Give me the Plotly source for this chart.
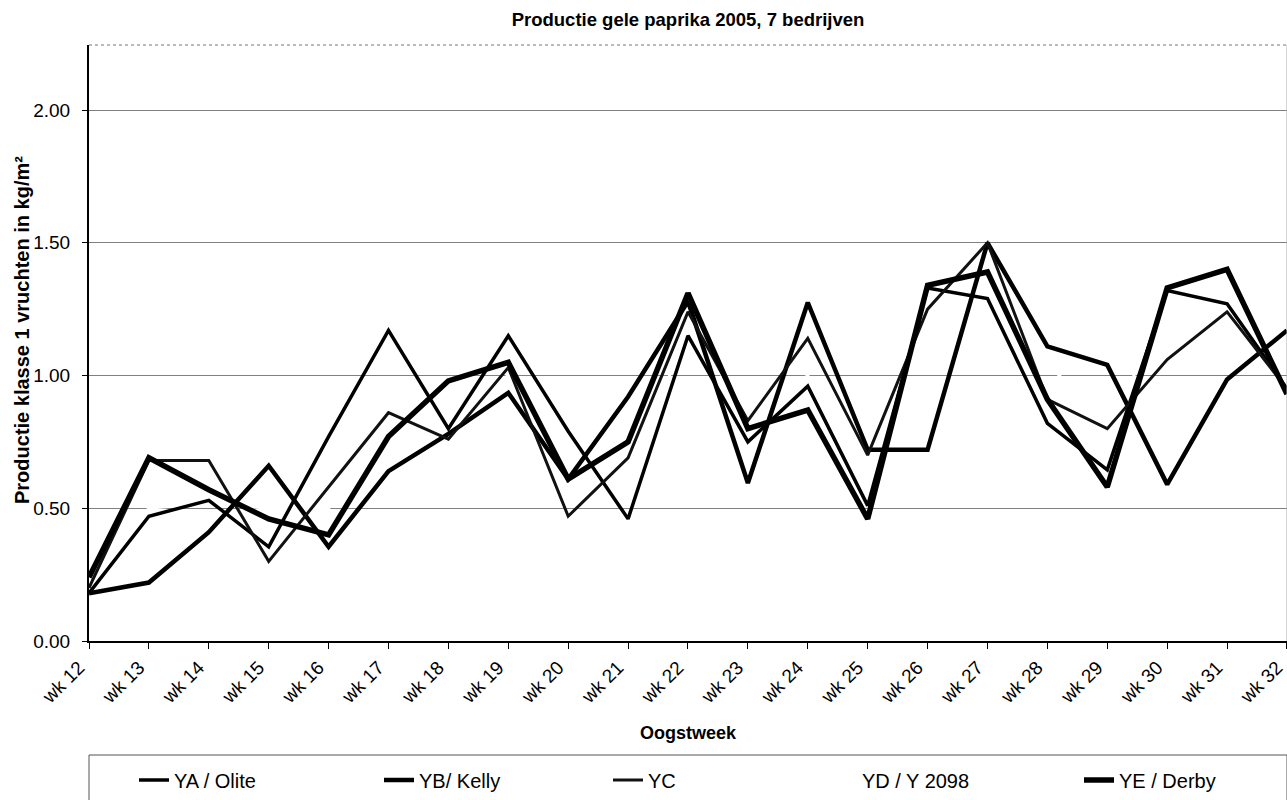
import plotly.graph_objects as go

weeks = [f"wk {w}" for w in range(12, 33)]
ya_olite = [0.18, 0.47, 0.53, 0.355, 0.77, 1.17, 0.80, 1.15, 0.79, 0.46, 1.15,
            0.75, 0.96, 0.51, 1.33, 1.29, 0.82, 0.645, 1.32, 1.27, 0.95]
yb_kelly = [0.18, 0.22, 0.41, 0.66, 0.355, 0.64, 0.78, 0.935, 0.61, 0.92, 1.28,
            0.595, 1.275, 0.72, 0.72, 1.50, 1.11, 1.04, 0.59, 0.985, 1.17]
yc = [0.20, 0.68, 0.68, 0.30, 0.58, 0.86, 0.76, 1.03, 0.47, 0.69, 1.24,
      0.83, 1.14, 0.70, 1.25, 1.50, 0.91, 0.80, 1.06, 1.24, 0.95]
yd_y2098 = [0.22, 0.50, 0.52, 0.50, 0.50, 0.75, 0.85, 1.00, 0.70, 0.55, 1.20,
            0.85, 1.00, 0.60, 1.30, 1.45, 1.05, 0.80, 1.25, 1.10, 1.10]
ye_derby = [0.24, 0.69, 0.57, 0.46, 0.40, 0.77, 0.98, 1.05, 0.61, 0.75, 1.31,
            0.80, 0.87, 0.46, 1.34, 1.39, 0.91, 0.58, 1.33, 1.40, 0.93]
y_ticks = [0.0, 0.5, 1.0, 1.5, 2.0]

xi = list(range(len(weeks)))
FONT = "Liberation Sans, Arial, sans-serif"

plot_left, plot_right, plot_top, plot_bottom = 89, 1287, 45, 641
W, H = 1287, 800
PW = plot_right - plot_left
PH = plot_bottom - plot_top


def px_x(p):
    return (p - plot_left) / PW


def px_y(p):
    return (plot_bottom - p) / PH


fig = go.Figure()
series = [
    ("YA / Olite", ya_olite, "#000000", 3.5, "legend", 134),
    ("YB/ Kelly", yb_kelly, "#000000", 4.5, "legend2", 379),
    ("YC", yc, "#111111", 3, "legend3", 608),
    ("YD / Y 2098", yd_y2098, "#ffffff", 3, "legend4", 822),
    ("YE / Derby", ye_derby, "#000000", 5.5, "legend5", 1079),
]
# draw the white series first so it only interrupts gridlines
order = [3, 0, 1, 2, 4]
for k in order:
    name, vals, col, w, lg, _ = series[k]
    fig.add_trace(go.Scatter(x=xi, y=vals, mode="lines", name=name,
                             line=dict(color=col, width=w), legend=lg))

legend_common = dict(orientation="h", xanchor="left", yanchor="middle",
                     y=px_y(780), bgcolor="rgba(0,0,0,0)", borderwidth=0,
                     font=dict(family=FONT, size=20, color="black"))
layout_legends = {}
for name, vals, col, w, lg, lx in series:
    layout_legends[lg] = dict(legend_common, x=px_x(lx))

fig.update_layout(
    width=W, height=H,
    margin=dict(l=plot_left, r=W - plot_right, t=plot_top, b=H - plot_bottom,
                autoexpand=False),
    paper_bgcolor="white", plot_bgcolor="white",
    font=dict(family=FONT, color="black", size=19),
    showlegend=True,
    title=dict(text="<b>Productie gele paprika 2005, 7 bedrijven</b>",
               x=0.5, xref="paper", xanchor="center", y=1 - 20 / H, yanchor="middle",
               font=dict(family=FONT, size=18.5, color="black")),
    **layout_legends,
)

fig.update_xaxes(range=[0, 20.0005], tickmode="array", tickvals=xi, ticktext=weeks,
                 tickangle=-45, ticks="outside", ticklen=6, tickcolor="black",
                 showline=True, linecolor="black", linewidth=2, showgrid=False,
                 zeroline=False, tickfont=dict(size=19), automargin=False,
                 ticklabeloverflow="allow", ticklabelshift=-10)
fig.update_yaxes(range=[0, 2.245], tickmode="array", tickvals=y_ticks,
                 ticktext=[f"{v:.2f}" for v in y_ticks], ticks="outside", ticklen=5,
                 tickcolor="black", showline=True, linecolor="black", linewidth=2,
                 showgrid=True, gridcolor="#808080", gridwidth=1, zeroline=False,
                 tickfont=dict(size=19), automargin=False, ticklabelstandoff=8)

# top and right borders of plot area
fig.add_shape(type="line", xref="paper", yref="paper", x0=0, x1=1, y0=1, y1=1,
              line=dict(color="#777777", width=1, dash="dot"))
fig.add_shape(type="line", xref="paper", yref="paper", x0=1, x1=1, y0=0, y1=1,
              line=dict(color="#aaaaaa", width=1))

# legend box
fig.add_shape(type="rect", xref="paper", yref="paper",
              x0=0, x1=1, y0=px_y(812), y1=px_y(755),
              line=dict(color="#555555", width=1), fillcolor="rgba(0,0,0,0)")

fig.add_annotation(text="<b>Oogstweek</b>", xref="paper", yref="paper",
                   x=0.5, y=px_y(733), xanchor="center", yanchor="middle",
                   showarrow=False, font=dict(family=FONT, size=18, color="black"))
fig.add_annotation(text="<b>Productie klasse 1 vruchten in kg/m²</b>",
                   xref="paper", yref="paper", x=px_x(22), y=px_y(330),
                   xanchor="center", yanchor="middle", textangle=-90, showarrow=False,
                   font=dict(family=FONT, size=20, color="black"))

fig.write_html("out.html", config={"displayModeBar": False},
               post_script="document.body.style.margin='0';document.body.style.overflow='hidden';")
